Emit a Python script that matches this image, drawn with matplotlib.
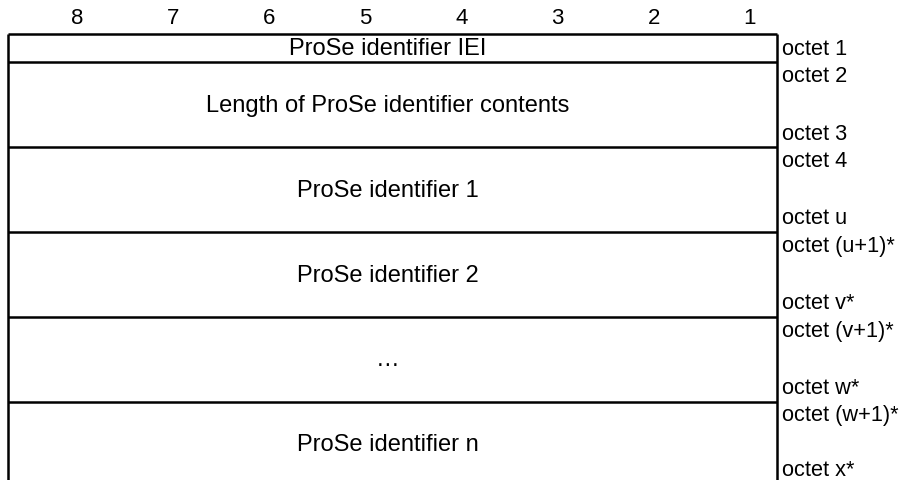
import matplotlib.pyplot as plt
import numpy as np

plt.rcParams['font.family'] = ['Liberation Sans', 'DejaVu Sans']

# bit numbers over the columns
bits = ['8', '7', '6', '5', '4', '3', '2', '1']

# one entry per field of the table
fields = ['ProSe identifier IEI',
          'Length of ProSe identifier contents',
          'ProSe identifier 1',
          'ProSe identifier 2',
          '\u2026',
          'ProSe identifier n']
row_size = [1, 3, 3, 3, 3, 3]
octet_top = ['octet 1', 'octet 2', 'octet 4', 'octet (u+1)*', 'octet (v+1)*', 'octet (w+1)*']
octet_bottom = [None, 'octet 3', 'octet u', 'octet v*', 'octet w*', 'octet x*']


def main():
    fig = plt.figure(figsize=(9.09, 4.81), dpi=100)
    ax = fig.add_axes([0, 0, 1, 1])
    ax.set_xlim(-0.083, 9.376)
    ax.set_ylim(15.76, -1.237)
    ax.axis('off')

    fs = 17
    fs_oct = 15.7
    edges = np.concatenate([[0], np.cumsum(row_size)])

    # frame of the table
    ax.hlines(edges, 0, 8, color='black', lw=1.8)
    ax.vlines([0, 8], 0, edges[-1], color='black', lw=1.8)

    for i, b in enumerate(bits):
        ax.text(i + 0.72, -0.57, b, ha='center', va='center', fontsize=16)

    for k, name in enumerate(fields):
        top, bot = edges[k], edges[k + 1]
        ax.text(3.95, (top + bot) / 2, name, ha='center', va='center', fontsize=fs)
        if octet_bottom[k] is None:
            ax.text(8.05, (top + bot) / 2, octet_top[k], ha='left', va='center', fontsize=fs_oct)
        else:
            ax.text(8.05, top + 0.46, octet_top[k], ha='left', va='center', fontsize=fs_oct)
            ax.text(8.05, min(bot - 0.5, 15.4), octet_bottom[k], ha='left', va='center', fontsize=fs_oct)

    fig.savefig('out.png', dpi=100)


if __name__ == '__main__':
    main()
